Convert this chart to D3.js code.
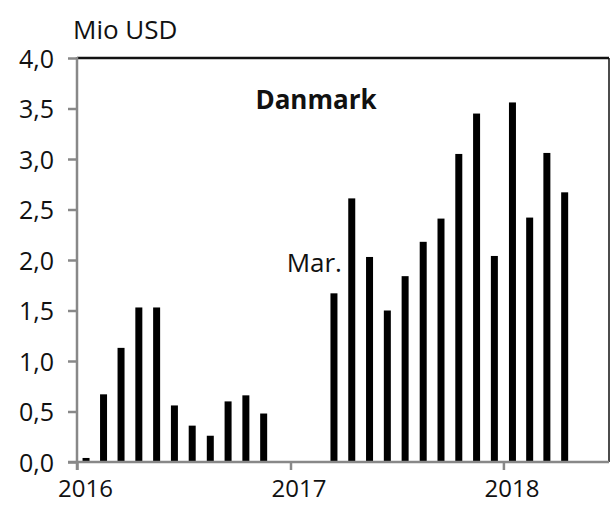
<!DOCTYPE html>
<html>
  <head>
    <meta charset="utf-8" />
    <title>Danmark</title>
    <script src="https://d3js.org/d3.v7.min.js"></script>
    <style>

      body {
        margin: 0;
        background: white;
      }

      text {
        font-family: "Open Sans", sans-serif;
        font-size: 25px;
        fill: #111;
      }

    </style>
  </head>
  <body>

    <svg id="viz"></svg>

    <script>

      var months = [
        "2016-01", "2016-02", "2016-03", "2016-04", "2016-05", "2016-06",
        "2016-07", "2016-08", "2016-09", "2016-10", "2016-11", "2016-12",
        "2017-01", "2017-02", "2017-03", "2017-04", "2017-05", "2017-06",
        "2017-07", "2017-08", "2017-09", "2017-10", "2017-11", "2017-12",
        "2018-01", "2018-02", "2018-03", "2018-04"
      ];
      var values = [
        0.04, 0.67, 1.13, 1.53, 1.53, 0.56, 0.36, 0.26, 0.60, 0.66, 0.48, null,
        null, null, 1.67, 2.61, 2.03, 1.50, 1.84, 2.18, 2.41, 3.05, 3.45, 2.04,
        3.56, 2.42, 3.06, 2.67
      ];
      var yTicks = [0, 0.5, 1, 1.5, 2, 2.5, 3, 3.5, 4];
      var yearTicks = ["2016", "2017", "2018"];
      var title = "Danmark";
      var unit = "Mio USD";
      var note = {month: "2017-03", label: "Mar."};

      var width = 610;
      var height = 505;
      var m = {left: 77, right: 609, top: 58, bottom: 462};

      var svg = d3.select("#viz")
        .attr("width", width)
        .attr("height", height);

      var parse = d3.timeParse("%Y-%m");
      var data = months.map(function(mo, i) {
        return {date: parse(mo), value: values[i]};
      }).filter(function(d) { return d.value !== null; });

      var x = d3.scaleTime()
        .domain([new Date(2016, 0, 1), new Date(2018, 6, 1)])
        .range([m.left, m.right]);

      var y = d3.scaleLinear()
        .domain([0, 4])
        .range([m.bottom, m.top]);

      function mid(date) {
        return (x(date) + x(d3.timeMonth.offset(date, 1))) / 2;
      }

      // frame: top and right black
      svg.append("line")
        .attr("x1", m.left).attr("x2", m.right)
        .attr("y1", m.top).attr("y2", m.top)
        .attr("stroke", "#111").attr("stroke-width", 2.5);
      svg.append("line")
        .attr("x1", m.right).attr("x2", m.right)
        .attr("y1", m.top).attr("y2", m.bottom)
        .attr("stroke", "#111").attr("stroke-width", 1.5);

      // bars
      var barW = 7;
      svg.selectAll("rect.bar")
        .data(data)
        .enter().append("rect")
        .attr("class", "bar")
        .attr("x", function(d) { return mid(d.date) - barW / 2; })
        .attr("width", barW)
        .attr("y", function(d) { return y(d.value); })
        .attr("height", function(d) { return y(0) - y(d.value); })
        .attr("fill", "#000");

      // y axis
      var yAxis = d3.axisLeft(y)
        .tickValues(yTicks)
        .tickSize(9)
        .tickPadding(14)
        .tickFormat(function(d) { return d3.format(".1f")(d).replace(".", ","); });

      var gy = svg.append("g")
        .attr("transform", "translate(" + m.left + ",0)")
        .call(yAxis);
      gy.select(".domain").remove();
      gy.append("line")
        .attr("x1", 0).attr("x2", 0)
        .attr("y1", m.top - 1).attr("y2", m.bottom + 8)
        .attr("stroke", "#888").attr("stroke-width", 2.5);
      gy.selectAll(".tick line").attr("stroke", "#888").attr("stroke-width", 2.5);
      gy.selectAll(".tick text")
        .attr("font-size", null)
        .attr("font-family", null)
        .attr("dy", "0.36em");

      // x axis
      var xAxis = d3.axisBottom(x)
        .tickValues(yearTicks.map(function(t) { return new Date(+t, 0, 1); }))
        .tickSize(8)
        .tickPadding(8)
        .tickFormat(d3.timeFormat("%Y"));

      var gx = svg.append("g")
        .attr("transform", "translate(0," + m.bottom + ")")
        .call(xAxis);
      gx.select(".domain").remove();
      gx.append("line")
        .attr("x1", m.left - 9).attr("x2", m.right)
        .attr("y1", 0).attr("y2", 0)
        .attr("stroke", "#888").attr("stroke-width", 2.5);
      gx.selectAll(".tick line").attr("stroke", "#888").attr("stroke-width", 2.5);
      gx.selectAll(".tick text")
        .attr("font-size", null)
        .attr("font-family", null)
        .style("font-size", "24px")
        .attr("dx", 8)
        .attr("dy", "0.8em");

      // texts
      svg.append("text")
        .attr("x", 73).attr("y", 39)
        .style("font-size", "26px")
        .text(unit);

      svg.append("text")
        .attr("x", 316).attr("y", 109)
        .attr("text-anchor", "middle")
        .attr("font-weight", "bold")
        .style("font-size", "26px")
        .text(title);

      var nd = parse(note.month);
      var nv = values[months.indexOf(note.month)];
      svg.append("text")
        .attr("x", mid(nd) + 8)
        .attr("y", y(nv) - 21)
        .attr("text-anchor", "end")
        .style("font-size", "26px")
        .text(note.label);

    </script>
  </body>
</html>
